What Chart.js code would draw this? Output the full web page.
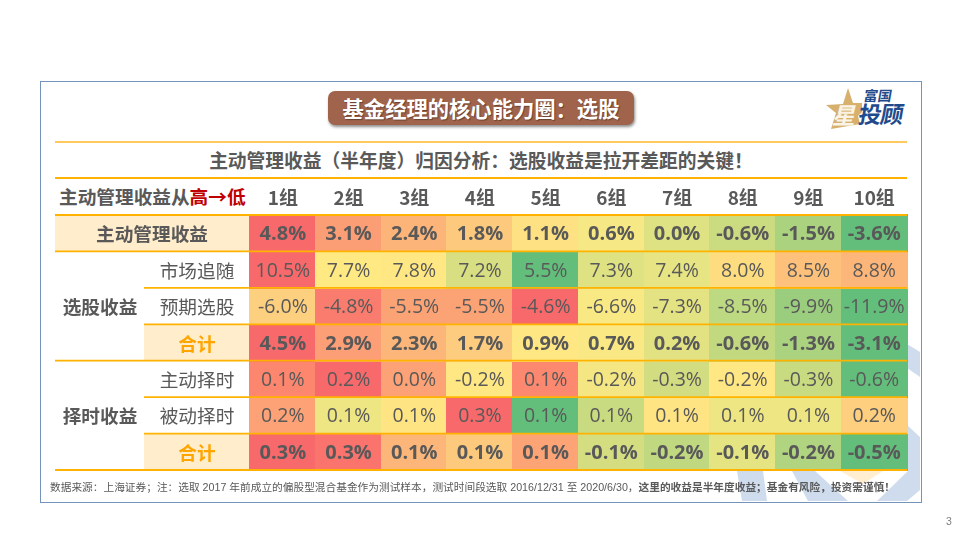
<!DOCTYPE html>
<html lang="zh"><head><meta charset="utf-8">
<script src="https://cdn.jsdelivr.net/npm/chart.js@4/dist/chart.umd.min.js"></script>
<style>
html,body{margin:0;padding:0;background:#fff;width:960px;height:540px;overflow:hidden}
#stage{position:relative;width:960px;height:540px;font-family:"Noto Sans CJK SC","Noto Sans",sans-serif;color:#595959}
#stage>*{position:absolute}
#frame{left:40px;top:81px;width:880px;height:420px;border:1.3px solid #7393B9;box-sizing:content-box}
#wm{left:0;top:0}
canvas{left:0;top:0}
.rule{left:55px;width:852px;height:2px;background:#FFB300}
#pill{left:328px;top:91px;width:306px;height:34px;border-radius:7px;background:#A0634B;box-shadow:1px 2px 3px rgba(0,0,0,.45);color:#fff;font-weight:700;font-size:21.3px;line-height:34px;text-align:center;text-shadow:1px 1px 1px rgba(0,0,0,.35);white-space:nowrap}
#sub{left:55px;width:852px;top:145px;height:30px;line-height:30px;text-align:center;font-weight:700;font-size:18.75px;white-space:nowrap}
#corner{left:59px;top:181px;height:30px;line-height:30px;font-weight:700;font-size:18.67px;white-space:nowrap}
#corner b{color:#C00000;font-weight:700}
#foot{left:50px;top:479px;font-size:10.7px;line-height:16px;white-space:nowrap;font-family:"Liberation Sans","Noto Sans CJK SC",sans-serif}
#foot b{font-family:"Liberation Sans","Noto Sans CJK SC",sans-serif}
#page{left:946px;top:513px;font-size:10.5px;color:#7f7f7f;line-height:16px;font-family:"Liberation Sans",sans-serif}
.lg{font-weight:700;white-space:nowrap;line-height:1}
</style></head>
<body>
<div id="stage">
<svg id="wm" width="960" height="540">
  <g fill="#CFDCEE">
    <polygon points="907,344 920,352 920,377 907,368"/>
    <polygon points="907,425 920,437 920,490 907,470"/>
    <polygon points="737,471 763,471 767,501 742,501"/>
    <polygon points="792,471 815,471 848,501 808,501"/>
    <polygon points="877,501 908,471 920,471 920,490 907,501"/>
  </g>
  <polygon points="840,471 883,471 863,484" fill="#FFEFD0"/>
  <polygon points="848,88 853,103 862,103 862,112 858,116 860,124 831,129 836,113 826,105 843,104" fill="#D6B06C"/>
</svg>
<div id="frame"></div>
<div id="pill">基金经理的核心能力圈：选股</div>
<div class="lg" style="left:834px;top:103px;font-size:23px;color:#FBF4E6;transform:skewX(-14deg)">星</div>
<div class="lg" style="left:859px;top:102px;font-size:23px;color:#1F4B8C;transform:skewX(-10deg);letter-spacing:-1px">投顾</div>
<div class="lg" style="left:864px;top:88px;font-size:14px;color:#1F4B8C;transform:skewX(-10deg)">富国</div>
<div class="rule" style="top:141px;background:#FFC95E"></div>
<div id="sub">主动管理收益（半年度）归因分析：选股收益是拉开差距的关键！</div>
<div class="rule" style="top:177px"></div>
<div id="corner">主动管理收益从<b>高→低</b></div>
<canvas id="c" width="960" height="540"></canvas>
<div id="foot">数据来源：上海证券；注：选取 2017 年前成立的偏股型混合基金作为测试样本，测试时间段选取 2016/12/31 至 2020/6/30，<b>这里的收益是半年度收益；基金有风险，投资需谨慎！</b></div>
<div id="page">3</div>
</div>
<script>
const groups = ['1组','2组','3组','4组','5组','6组','7组','8组','9组','10组'];
const rowKeys = ['主动管理收益','市场追随','预期选股','选股合计','主动择时','被动择时','择时合计'];
const activeReturn = [4.8,3.1,2.4,1.8,1.1,0.6,0.0,-0.6,-1.5,-3.6];
const marketChase = [10.5,7.7,7.8,7.2,5.5,7.3,7.4,8.0,8.5,8.8];
const expectedPick = [-6.0,-4.8,-5.5,-5.5,-4.6,-6.6,-7.3,-8.5,-9.9,-11.9];
const pickTotal = [4.5,2.9,2.3,1.7,0.9,0.7,0.2,-0.6,-1.3,-3.1];
const activeTiming = [0.1,0.2,0.0,-0.2,0.1,-0.2,-0.3,-0.2,-0.3,-0.6];
const passiveTiming = [0.2,0.1,0.1,0.3,0.1,0.1,0.1,0.1,0.1,0.2];
const timingTotal = [0.3,0.3,0.1,0.1,0.1,-0.1,-0.2,-0.1,-0.2,-0.5];
const rowValues = [activeReturn,marketChase,expectedPick,pickTotal,activeTiming,passiveTiming,timingTotal];

const activeReturnColors = ['#F8696B','#FB9D75','#FCB479','#FDC97D','#FEE182','#F6E884','#DEE283','#CBDB80','#ABD27F','#63BE7B'];
const marketChaseColors = ['#F8696B','#FEE983','#FFE883','#D8DF82','#63BE7B','#DFE283','#E7E483','#FEDD81','#FDC17B','#FDB679'];
const expectedPickColors = ['#FDD07F','#FA7C6E','#FCA376','#FCA376','#F8696B','#F9E985','#E3E383','#BDD981','#9BCD7E','#63BE7B'];
const pickTotalColors = ['#F8696B','#FC9F76','#FCB679','#FDCC7E','#FFE784','#F9E884','#E3E283','#C3D980','#ABD27F','#63BE7B'];
const activeTimingColors = ['#FD866F','#F8696B','#FCA276','#FFE784','#FD8870','#F4E783','#D2DD81','#FFE784','#C8DB80','#63BE7B'];
const passiveTimingColors = ['#FCA276','#EEE583','#FFE483','#F8696B','#63BE7B','#C9DB80','#FFE483','#EEE583','#EEE583','#FDCF7E'];
const timingTotalColors = ['#F8696B','#FA736D','#FDB679','#FDC97D','#FCA476','#D4DE81','#C0D980','#E5E483','#B0D47F','#63BE7B'];
const rowColors = [activeReturnColors,marketChaseColors,expectedPickColors,pickTotalColors,activeTimingColors,passiveTimingColors,timingTotalColors];

const TEXT='#595959', GOLD='#FFB300', CREAM='#FFEDCC', ORANGE='#FFA500';
const CJK='"Noto Sans CJK SC"';
const boldRows=[0,3,6];
const rowNames=['主动管理收益','市场追随','预期选股','合计','主动择时','被动择时','合计'];

function cell(color){
  const cv=document.createElement('canvas');cv.width=67;cv.height=38;
  const g=cv.getContext('2d');g.fillStyle=color;g.fillRect(0,0,67,38);return cv;
}
const datasets=rowKeys.map((k,r)=>({
  label:k,
  data:rowValues[r].map((v,i)=>({x:groups[i],y:k,v})),
  pointStyle:rowColors[r].map(cell),
  pointRadius:18,pointHoverRadius:18,showLine:false,clip:false
}));

const tablePlugin={
  id:'table',
  beforeDatasetsDraw(ch){
    const y=ch.scales.y,ctx=ch.ctx,h=y.getPixelForValue(1)-y.getPixelForValue(0);
    ctx.save();ctx.fillStyle=CREAM;
    ctx.fillRect(55,y.getPixelForValue(0)-h/2,195,h);
    [3,6].forEach(r=>ctx.fillRect(144,y.getPixelForValue(r)-h/2,106,h));
    ctx.restore();
  },
  afterDatasetsDraw(ch){
    const {x,y}=ch.scales,ctx=ch.ctx,h=y.getPixelForValue(1)-y.getPixelForValue(0);
    ctx.save();
    ctx.textAlign='center';ctx.textBaseline='middle';
    // cell values
    rowValues.forEach((vals,r)=>vals.forEach((v,i)=>{
      ctx.fillStyle=TEXT;
      ctx.font=(boldRows.includes(r)?'700 20px':'400 19.5px')+' "Open Sans",'+CJK;
      ctx.fillText(v.toFixed(1)+'%',x.getPixelForValue(i),y.getPixelForValue(r)+1.5);
    }));
    // row labels
    rowNames.forEach((n,r)=>{
      const yy=y.getPixelForValue(r)+1;
      if(r===0){ctx.font='700 18.67px '+CJK;ctx.fillStyle=TEXT;ctx.fillText(n,152,yy);}
      else if(boldRows.includes(r)){ctx.font='700 18.67px '+CJK;ctx.fillStyle=ORANGE;ctx.fillText(n,197,yy);}
      else{ctx.font='400 18.67px '+CJK;ctx.fillStyle=TEXT;ctx.fillText(n,197,yy);}
    });
    ctx.font='700 18.67px '+CJK;ctx.fillStyle=TEXT;
    ctx.fillText('选股收益',100,y.getPixelForValue(2)+1);
    ctx.fillText('择时收益',100,y.getPixelForValue(5)+1);
    // rules
    ctx.strokeStyle=GOLD;ctx.lineWidth=1.8;
    const right=x.right;
    const hline=(x0,yy)=>{ctx.beginPath();ctx.moveTo(x0,yy);ctx.lineTo(right,yy);ctx.stroke();};
    for(let r=0;r<=7;r++){
      const yy=y.getPixelForValue(0)-h/2+r*h;
      hline([0,1,4,7].includes(r)?55:144,yy);
    }
    ctx.restore();
  }
};

new Chart(document.getElementById('c'),{
  type:'scatter',
  data:{labels:groups,datasets},
  plugins:[tablePlugin],
  options:{
    responsive:false,animation:false,devicePixelRatio:1,
    layout:{padding:{left:250,right:53,top:179,bottom:70}},
    plugins:{legend:{display:false},tooltip:{enabled:false}},
    scales:{
      x:{type:'category',labels:groups,position:'top',offset:true,
         grid:{display:false,drawTicks:false},border:{display:false},
         afterFit(s){s.height=36;},
         ticks:{color:TEXT,padding:6,font:{family:CJK,size:19,weight:'700'},maxRotation:0,autoSkip:false}},
      y:{type:'category',labels:rowKeys,offset:true,display:false}
    }
  }
});
</script>
</body></html>
